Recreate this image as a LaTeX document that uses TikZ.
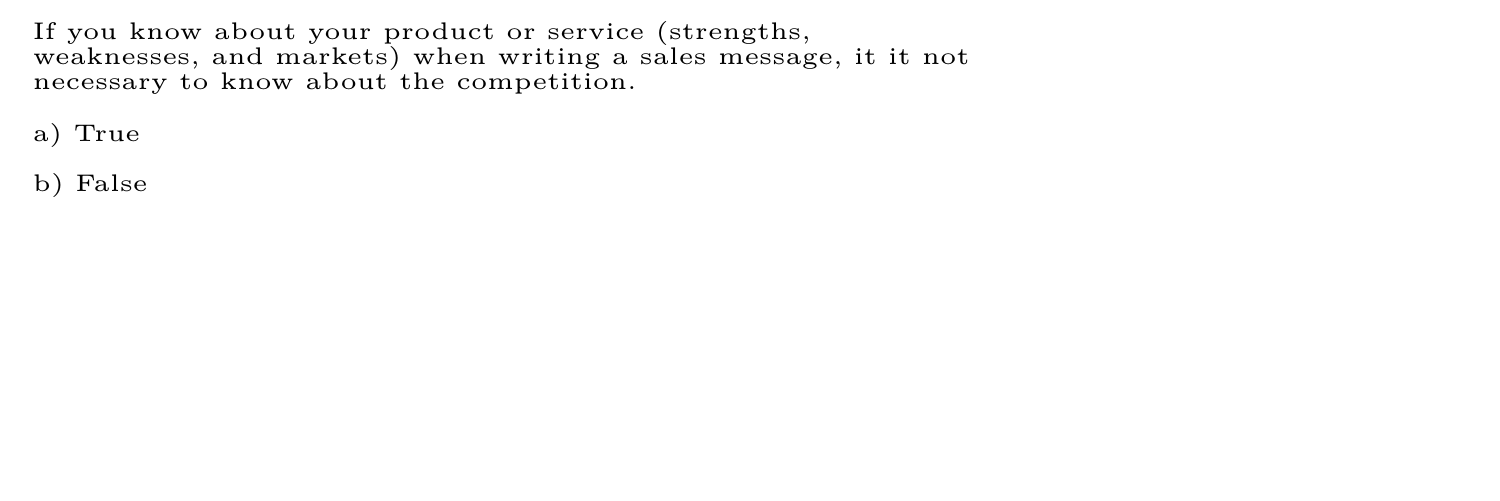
\documentclass[tikz,border=0pt]{standalone}
\usepackage{tikz}
\begin{document}
\begin{tikzpicture}
  [x=1pt,y=1pt,every node/.style={anchor=base west, inner sep=0pt, font=\fontsize{5}{6}\selectfont}]
  \useasboundingbox (0,0) rectangle (312,-104);
  \node (q1) at (6.66,-8.32)  {If you know about your product or service (strengths,};
  \node (q2) at (6.66,-13.52) {weaknesses, and markets) when writing a sales message, it it not};
  \node (q3) at (6.66,-18.72) {necessary to know about the competition.};
  \node (a)  at (6.66,-29.33) {a) True};
  \node (b)  at (6.66,-39.73) {b) False};
\end{tikzpicture}
\end{document}
